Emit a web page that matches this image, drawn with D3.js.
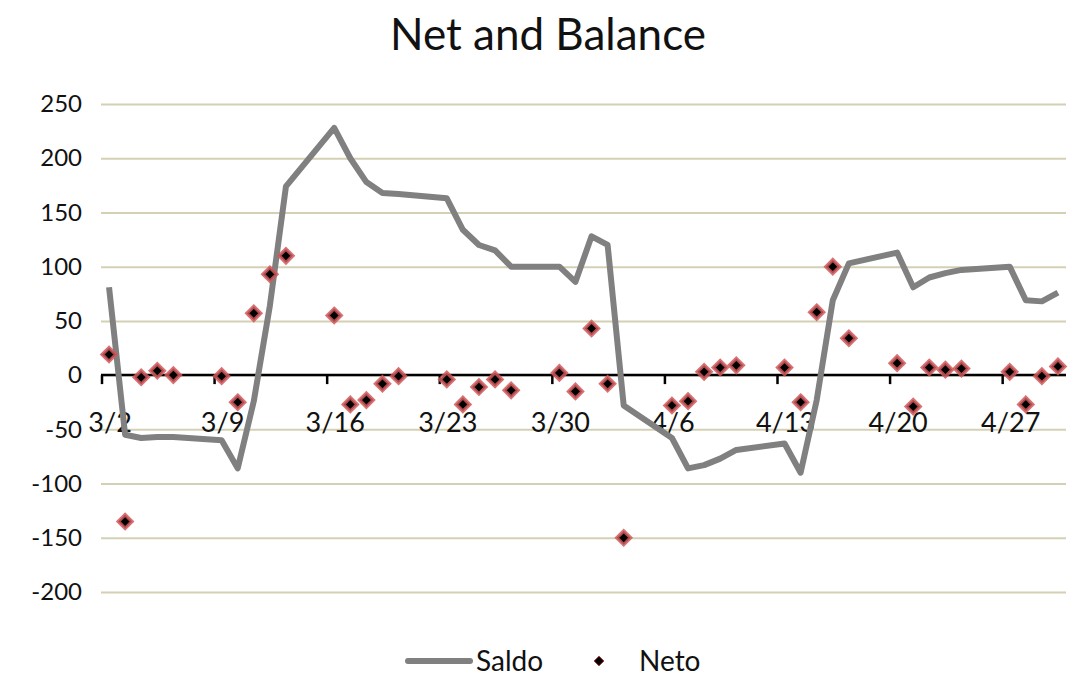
<!DOCTYPE html>
<html>
<head>
<meta charset="utf-8">
<script src="https://cdn.jsdelivr.net/npm/d3@7"></script>
<style>
  body { margin: 0; background: #fff; }
  svg text { font-family: Lato, "Open Sans", sans-serif; fill: #111; }
</style>
</head>
<body>
<div id="chart"></div>
<script>
// trading days (2020) with data
let days = ['3/2','3/3','3/4','3/5','3/6','3/9','3/10','3/11','3/12','3/13',
  '3/16','3/17','3/18','3/19','3/20','3/23','3/24','3/25','3/26','3/27',
  '3/30','3/31','4/1','4/2','4/3','4/6','4/7','4/8','4/9','4/10',
  '4/13','4/14','4/15','4/16','4/17','4/20','4/21','4/22','4/23','4/24',
  '4/27','4/28','4/29','4/30'];

let saldo = [81,-55,-58,-57,-57,-60,-86,-24,64,174,
  228,200,178,168,167,163,134,120,115,100,
  100,86,128,120,-28,-58,-86,-83,-77,-69,
  -63,-90,-23,69,103,113,81,90,94,97,
  100,69,68,76];

let neto = [19,-135,-2,4,0,-1,-25,57,93,110,
  55,-27,-23,-8,-1,-4,-27,-11,-4,-14,
  2,-15,43,-8,-150,-28,-24,3,7,9,
  7,-25,58,100,34,11,-29,7,5,6,
  3,-27,-1,8];

let tickLabels = ['3/2','3/9','3/16','3/23','3/30','4/6','4/13','4/20','4/27'];
let yTicks = [-200,-150,-100,-50,0,50,100,150,200,250];

let W = 1070, H = 677;
let margin = {top:104, right:4, bottom:85, left:101};

let fmt = d3.timeFormat('%-m/%-d');
let allDays = d3.timeDay.range(new Date(2020, 2, 2), new Date(2020, 4, 1)).map(fmt);

let svg = d3.select('#chart').append('svg')
  .attr('width', W).attr('height', H);

let x = d3.scaleBand().domain(allDays).range([margin.left, W - margin.right]).padding(0);
let y = d3.scaleLinear().domain([-200, 250]).range([H - margin.bottom, margin.top]);
let cx = d => x(d) + x.bandwidth() / 2;

// title
svg.append('text')
  .attr('x', 548).attr('y', 50)
  .attr('text-anchor', 'middle')
  .style('font-size', '44px')
  .text('Net and Balance');

// gridlines + y labels
svg.append('g')
  .attr('transform', `translate(${margin.left},0)`)
  .call(d3.axisLeft(y).tickValues(yTicks).tickFormat(d => String(d))
    .tickSize(-(W - margin.left - margin.right)).tickPadding(19))
  .call(g => g.select('.domain').remove())
  .call(g => g.selectAll('.tick line').attr('stroke', '#d4d0b4').attr('stroke-width', 2))
  .call(g => g.selectAll('.tick text').style('font-size', '24px').style('font-family', 'Lato, sans-serif').attr('fill', '#111'));

// zero axis with week ticks on category boundaries
let y0 = y(0);
svg.append('line')
  .attr('x1', margin.left).attr('x2', W - margin.right)
  .attr('y1', y0).attr('y2', y0)
  .attr('stroke', '#000').attr('stroke-width', 2.5);

svg.append('g').selectAll('line').data(tickLabels).join('line')
  .attr('x1', d => x(d) + 1).attr('x2', d => x(d) + 1)
  .attr('y1', y0).attr('y2', y0 + 9)
  .attr('stroke', '#000').attr('stroke-width', 2.5);

svg.append('g').selectAll('text').data(tickLabels).join('text')
  .attr('x', d => cx(d) + 1).attr('y', y0 + 57)
  .attr('text-anchor', 'middle')
  .style('font-size', '27px')
  .text(d => d);

// Saldo line
let line = d3.line().x(d => cx(d[0])).y(d => y(d[1]));
svg.append('path')
  .datum(days.map((d, i) => [d, saldo[i]]))
  .attr('d', line)
  .attr('fill', 'none')
  .attr('stroke', '#808080')
  .attr('stroke-width', 6)
  .attr('stroke-linejoin', 'round');

// Neto points
let diamond = d3.symbol().type(d3.symbolDiamond2).size(120);
svg.append('g').selectAll('path').data(days).join('path')
  .attr('transform', (d, i) => `translate(${cx(d)},${y(neto[i])})`)
  .attr('d', diamond)
  .attr('fill', '#000')
  .attr('stroke', '#d0585a')
  .attr('stroke-width', 3.5)
  .attr('stroke-opacity', 0.85);

// legend
let ly = 661;
svg.append('line')
  .attr('x1', 408).attr('x2', 470).attr('y1', ly).attr('y2', ly)
  .attr('stroke', '#808080').attr('stroke-width', 6).attr('stroke-linecap', 'round');
svg.append('text').attr('x', 476).attr('y', ly + 10).style('font-size', '28px').text('Saldo');
svg.append('path')
  .attr('transform', `translate(599,${ly})`)
  .attr('d', d3.symbol().type(d3.symbolDiamond2).size(60))
  .attr('fill', '#000').attr('stroke', '#a03030').attr('stroke-width', 1);
svg.append('text').attr('x', 639).attr('y', ly + 10).style('font-size', '28px').text('Neto');
</script>
</body>
</html>
